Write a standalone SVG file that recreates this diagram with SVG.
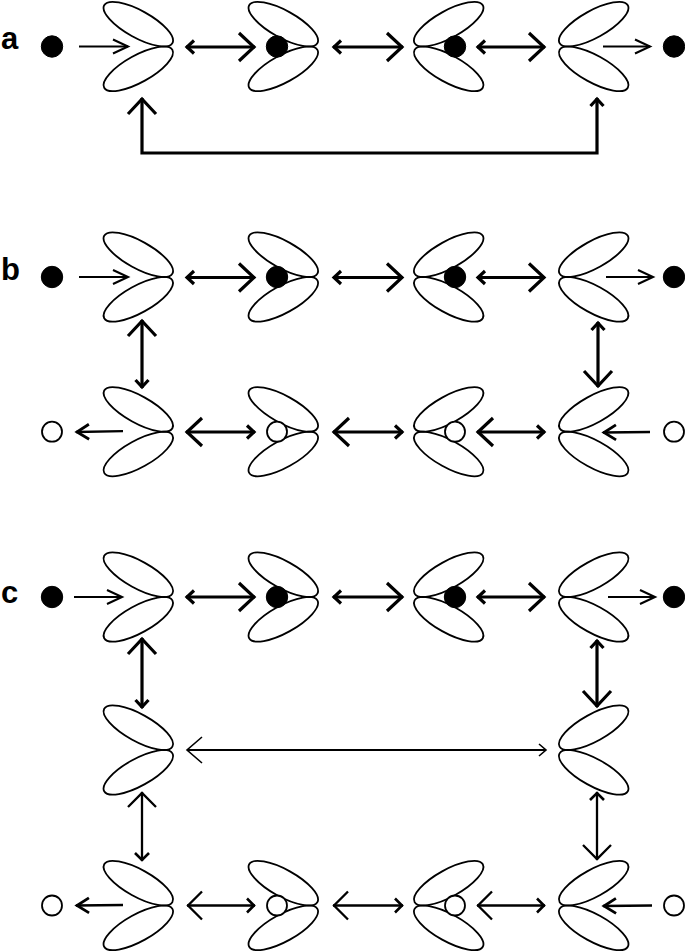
<svg xmlns="http://www.w3.org/2000/svg" xmlns:xlink="http://www.w3.org/1999/xlink" width="685" height="952" viewBox="0 0 685 952">
<style>
.pet{fill:none;stroke:#000;stroke-width:1.8}
.dot{fill:#000;stroke:#000;stroke-width:1}
.ring{fill:#fff;stroke:#000;stroke-width:1.8}
.lbl{font-family:"Liberation Sans",Arial,sans-serif;font-weight:bold;font-size:31px;fill:#000}
.c3{fill:none;stroke:#000;stroke-width:3.2}
.c2{fill:none;stroke:#000;stroke-width:2.3}
.c1{fill:none;stroke:#000;stroke-width:1.8}
.mh{fill:none;stroke:#000;stroke-linejoin:miter;stroke-linecap:butt}
</style>
<defs>
<g id="petalL">
<ellipse class="pet" cx="-34.7" cy="-22.3" rx="39" ry="13.5" transform="rotate(29 -34.7 -22.3)"/>
<ellipse class="pet" cx="-34.7" cy="22.3" rx="39" ry="13.5" transform="rotate(-29 -34.7 22.3)"/>
</g>
<g id="petalR">
<ellipse class="pet" cx="34.7" cy="-22.3" rx="39" ry="13.5" transform="rotate(-29 34.7 -22.3)"/>
<ellipse class="pet" cx="34.7" cy="22.3" rx="39" ry="13.5" transform="rotate(29 34.7 22.3)"/>
</g>
<marker id="hBig3" markerUnits="userSpaceOnUse" orient="auto-start-reverse" overflow="visible" markerWidth="1" markerHeight="1"><path class="mh" stroke-width="3.2" d="M-16,-14 L-1,0 L-16,14"/></marker>
<marker id="hSmall3" markerUnits="userSpaceOnUse" orient="auto-start-reverse" overflow="visible" markerWidth="1" markerHeight="1"><path class="mh" stroke-width="3.2" d="M-8,-6.5 L-1,0 L-8,6.5"/></marker>
<marker id="hThin" markerUnits="userSpaceOnUse" orient="auto-start-reverse" overflow="visible" markerWidth="1" markerHeight="1"><path class="mh" stroke-width="2.1" d="M-15,-7 L0,0 L-15,7"/></marker>
<marker id="hMed" markerUnits="userSpaceOnUse" orient="auto-start-reverse" overflow="visible" markerWidth="1" markerHeight="1"><path class="mh" stroke-width="2.8" d="M-13,-7.5 L-1,0 L-13,7.5"/></marker>
<marker id="hBig2" markerUnits="userSpaceOnUse" orient="auto-start-reverse" overflow="visible" markerWidth="1" markerHeight="1"><path class="mh" stroke-width="2.3" d="M-15,-14 L-1,0 L-15,14"/></marker>
<marker id="hSmall2" markerUnits="userSpaceOnUse" orient="auto-start-reverse" overflow="visible" markerWidth="1" markerHeight="1"><path class="mh" stroke-width="2.6" d="M-8,-7 L-1,0 L-8,7"/></marker>
<marker id="hBig1" markerUnits="userSpaceOnUse" orient="auto-start-reverse" overflow="visible" markerWidth="1" markerHeight="1"><path class="mh" stroke-width="1.6" d="M-15,-13 L0,0 L-15,13"/></marker>
<marker id="hSmall1" markerUnits="userSpaceOnUse" orient="auto-start-reverse" overflow="visible" markerWidth="1" markerHeight="1"><path class="mh" stroke-width="1.6" d="M-7,-6 L0,0 L-7,6"/></marker>
</defs>
<rect width="685" height="952" fill="#fff"/>

<g id="labels">
<text class="lbl" x="1" y="49">a</text>
<text class="lbl" x="1" y="280">b</text>
<text class="lbl" x="1" y="603">c</text>
</g>

<!-- panel a -->
<g id="a-in"><circle class="dot" cx="52" cy="46.5" r="10.7"/></g>
<g id="a-n1"><use href="#petalL" x="173" y="46.5"/></g>
<g id="a-n2"><use href="#petalL" x="318" y="46.5"/><circle class="dot" cx="277" cy="46.5" r="10.7"/></g>
<g id="a-n3"><use href="#petalR" x="414" y="46.5"/><circle class="dot" cx="455" cy="46.5" r="10.7"/></g>
<g id="a-n4"><use href="#petalR" x="559" y="46.5"/></g>
<g id="a-out"><circle class="dot" cx="674" cy="46.5" r="10.7"/></g>

<!-- panel b -->
<g id="b-in"><circle class="dot" cx="52" cy="277" r="10.7"/></g>
<g id="b-n1"><use href="#petalL" x="173" y="277"/></g>
<g id="b-n2"><use href="#petalL" x="318" y="277"/><circle class="dot" cx="277" cy="277" r="10.7"/></g>
<g id="b-n3"><use href="#petalR" x="414" y="277"/><circle class="dot" cx="455" cy="277" r="10.7"/></g>
<g id="b-n4"><use href="#petalR" x="559" y="277"/></g>
<g id="b-out"><circle class="dot" cx="674" cy="277" r="10.7"/></g>
<g id="b-m1"><circle class="ring" cx="52" cy="431.7" r="10"/></g>
<g id="b-m2"><use href="#petalL" x="173" y="431.7"/></g>
<g id="b-m3"><use href="#petalL" x="318" y="431.7"/><circle class="ring" cx="277" cy="431.7" r="10"/></g>
<g id="b-m4"><use href="#petalR" x="414" y="431.7"/><circle class="ring" cx="455" cy="431.7" r="10"/></g>
<g id="b-m5"><use href="#petalR" x="559" y="431.7"/></g>
<g id="b-m6"><circle class="ring" cx="674" cy="431.7" r="10"/></g>

<!-- panel c -->
<g id="c-in"><circle class="dot" cx="52" cy="597" r="10.7"/></g>
<g id="c-n1"><use href="#petalL" x="173" y="597"/></g>
<g id="c-n2"><use href="#petalL" x="318" y="597"/><circle class="dot" cx="277" cy="597" r="10.7"/></g>
<g id="c-n3"><use href="#petalR" x="414" y="597"/><circle class="dot" cx="455" cy="597" r="10.7"/></g>
<g id="c-n4"><use href="#petalR" x="559" y="597"/></g>
<g id="c-out"><circle class="dot" cx="674" cy="597" r="10.7"/></g>
<g id="c-k1"><use href="#petalL" x="173" y="750"/></g>
<g id="c-k2"><use href="#petalR" x="559" y="750"/></g>
<g id="c-m1"><circle class="ring" cx="52" cy="905.5" r="10"/></g>
<g id="c-m2"><use href="#petalL" x="173" y="905.5"/></g>
<g id="c-m3"><use href="#petalL" x="318" y="905.5"/><circle class="ring" cx="277" cy="905.5" r="10"/></g>
<g id="c-m4"><use href="#petalR" x="414" y="905.5"/><circle class="ring" cx="455" cy="905.5" r="10"/></g>
<g id="c-m5"><use href="#petalR" x="559" y="905.5"/></g>
<g id="c-m6"><circle class="ring" cx="674" cy="905.5" r="10"/></g>

<g id="connectors">
<!-- a -->
<path class="c1" d="M79,46.5 H128" marker-end="url(#hThin)"/>
<path class="c3" d="M186,47 H255" marker-start="url(#hSmall3)" marker-end="url(#hBig3)"/>
<path class="c3" d="M333,47 H403" marker-start="url(#hSmall3)" marker-end="url(#hBig3)"/>
<path class="c3" d="M477,47 H545" marker-start="url(#hSmall3)" marker-end="url(#hBig3)"/>
<path class="c1" d="M603,46.5 H650" marker-end="url(#hThin)"/>
<path class="c3" d="M142,98 V153 H597 V98" marker-start="url(#hBig3)" marker-end="url(#hSmall3)"/>
<!-- b top -->
<path class="c1" d="M79,277 H128" marker-end="url(#hThin)"/>
<path class="c3" d="M186,277.5 H255" marker-start="url(#hSmall3)" marker-end="url(#hBig3)"/>
<path class="c3" d="M333,277.5 H403" marker-start="url(#hSmall3)" marker-end="url(#hBig3)"/>
<path class="c3" d="M477,277.5 H545" marker-start="url(#hSmall3)" marker-end="url(#hBig3)"/>
<path class="c1" d="M606,277 H653" marker-end="url(#hThin)"/>
<!-- b verticals -->
<path class="c3" d="M142,320 V388" marker-start="url(#hBig3)" marker-end="url(#hSmall3)"/>
<path class="c3" d="M598,322 V387" marker-start="url(#hSmall3)" marker-end="url(#hBig3)"/>
<!-- b bottom -->
<path class="c2" d="M123,431.2 L76,432" marker-end="url(#hMed)"/>
<path class="c3" d="M186,432 H255" marker-start="url(#hBig3)" marker-end="url(#hSmall3)"/>
<path class="c3" d="M333,432 H403" marker-start="url(#hBig3)" marker-end="url(#hSmall3)"/>
<path class="c3" d="M477,432 H545" marker-start="url(#hBig3)" marker-end="url(#hSmall3)"/>
<path class="c2" d="M650,432 L603,432.5" marker-end="url(#hMed)"/>
<!-- c top -->
<path class="c1" d="M74,597 H122" marker-end="url(#hThin)"/>
<path class="c3" d="M186,597 H255" marker-start="url(#hSmall3)" marker-end="url(#hBig3)"/>
<path class="c3" d="M333,597 H403" marker-start="url(#hSmall3)" marker-end="url(#hBig3)"/>
<path class="c3" d="M477,597 H545" marker-start="url(#hSmall3)" marker-end="url(#hBig3)"/>
<path class="c1" d="M608,597 H655" marker-end="url(#hThin)"/>
<!-- c verticals upper -->
<path class="c3" d="M142,638 V708" marker-start="url(#hBig3)" marker-end="url(#hSmall3)"/>
<path class="c3" d="M597,640 V707" marker-start="url(#hSmall3)" marker-end="url(#hBig3)"/>
<!-- c middle -->
<path class="c1" d="M187,750 H546" marker-start="url(#hBig1)" marker-end="url(#hSmall1)"/>
<!-- c verticals lower -->
<path class="c2" d="M142,792 V861" marker-start="url(#hBig2)" marker-end="url(#hSmall2)"/>
<path class="c2" d="M597,792 V860" marker-start="url(#hSmall2)" marker-end="url(#hBig2)"/>
<!-- c bottom -->
<path class="c2" d="M123,905 L76,905.5" marker-end="url(#hMed)"/>
<path class="c2" d="M187,905.5 H255" marker-start="url(#hBig2)" marker-end="url(#hSmall2)"/>
<path class="c2" d="M333,905.5 H403" marker-start="url(#hBig2)" marker-end="url(#hSmall2)"/>
<path class="c2" d="M477,905.5 H545" marker-start="url(#hBig2)" marker-end="url(#hSmall2)"/>
<path class="c2" d="M652,905.5 L603,906" marker-end="url(#hMed)"/>
</g>
</svg>
